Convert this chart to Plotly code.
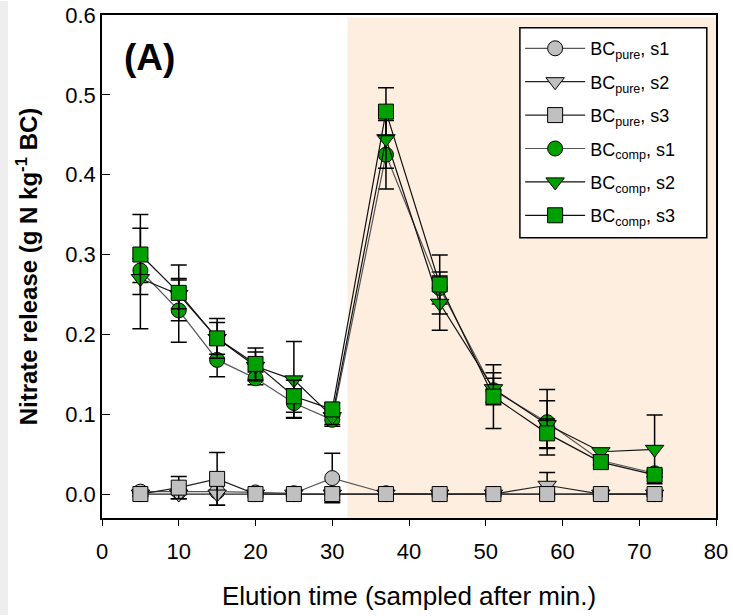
import plotly.graph_objects as go

# Sampling times (min) and nitrate release (g N kg-1 BC), mean and error
times = [5, 10, 15, 20, 25, 30, 37, 44, 51, 58, 65, 72]

pure_s1 = [0.003, 0.003, 0.003, 0.002, 0.001, 0.020, 0.001, 0.0, 0.0, 0.0, 0.0, 0.0]
pure_s1_err = [0.002, 0.003, 0.002, 0.002, 0.002, 0.031, 0.001, 0.001, 0.001, 0.001, 0.001, 0.001]
pure_s2 = [0.0, 0.0, 0.0, 0.0, 0.0, 0.0, 0.0, 0.0, 0.0, 0.011, 0.0, 0.0]
pure_s2_err = [0.003, 0.006, 0.014, 0.004, 0.003, 0.008, 0.003, 0.003, 0.003, 0.016, 0.003, 0.003]
pure_s3 = [0.0, 0.008, 0.019, 0.0, 0.0, 0.0, 0.0, 0.0, 0.0, 0.0, 0.0, 0.0]
pure_s3_err = [0.002, 0.014, 0.033, 0.002, 0.002, 0.002, 0.002, 0.002, 0.002, 0.002, 0.002, 0.002]

comp_s1 = [0.28, 0.23, 0.168, 0.145, 0.114, 0.093, 0.425, 0.258, 0.13, 0.09, 0.042, 0.026]
comp_s1_err = [0.015, 0.04, 0.021, 0.008, 0.018, 0.008, 0.043, 0.02, 0.015, 0.041, 0.005, 0.004]
comp_s2 = [0.27, 0.25, 0.195, 0.16, 0.143, 0.097, 0.445, 0.239, 0.132, 0.087, 0.053, 0.056]
comp_s2_err = [0.063, 0.018, 0.02, 0.018, 0.048, 0.01, 0.037, 0.034, 0.02, 0.03, 0.004, 0.043]
comp_s3 = [0.30, 0.252, 0.195, 0.163, 0.1225, 0.106, 0.479, 0.2625, 0.122, 0.076, 0.04, 0.024]
comp_s3_err = [0.05, 0.035, 0.025, 0.02, 0.02, 0.008, 0.03, 0.037, 0.04, 0.018, 0.004, 0.003]

GRAY = "#c0c0c0"
GREEN = "#00a000"
FONT = "Arial, 'Liberation Sans', sans-serif"

series = [
    ("BC<sub>pure</sub>, s1", pure_s1, pure_s1_err, "circle", GRAY, "#555555"),
    ("BC<sub>pure</sub>, s2", pure_s2, pure_s2_err, "triangle-down", GRAY, "#222222"),
    ("BC<sub>pure</sub>, s3", pure_s3, pure_s3_err, "square", GRAY, "#222222"),
    ("BC<sub>comp</sub>, s1", comp_s1, comp_s1_err, "circle", GREEN, "#555555"),
    ("BC<sub>comp</sub>, s2", comp_s2, comp_s2_err, "triangle-down", GREEN, "#111111"),
    ("BC<sub>comp</sub>, s3", comp_s3, comp_s3_err, "square", GREEN, "#111111"),
]

fig = go.Figure()
for i, (name, vals, errs, sym, fill, lcol) in enumerate(series):
    size = 16 if sym == "triangle-down" else 15
    fig.add_trace(go.Scatter(
        x=times, y=vals, name=name, mode="lines+markers",
        legendgroup=f"g{i}",
        line=dict(color=lcol, width=1.2),
        marker=dict(symbol=sym, size=size, color=fill,
                    line=dict(color="#000000", width=1)),
        error_y=dict(type="data", array=errs, visible=True,
                     color="#000000", thickness=1.5, width=8),
    ))

# Shaded second elution phase
fig.add_shape(type="rect", xref="x", yref="y", x0=32, x1=80, y0=-0.03, y1=0.597,
              fillcolor="#fdeedf", line=dict(width=0), layer="below")
# White framed panel behind the legend entries
fig.add_shape(type="rect", xref="x", yref="y", x0=54.45, x1=78.8, y0=0.321, y1=0.584,
              fillcolor="#ffffff", line=dict(color="#000000", width=1.5), layer="below")
# Light strip at the left page edge
fig.add_shape(type="rect", xref="paper", yref="paper",
              x0=-102 / 614, x1=-94 / 614, y0=-97 / 503, y1=1 + 14 / 503,
              fillcolor="#eeeeee", line=dict(width=0), layer="below")

fig.add_annotation(x=0.033, y=0.915, xref="paper", yref="paper",
                   text="<b>(A)</b>", showarrow=False, xanchor="left", yanchor="middle",
                   font=dict(family=FONT, size=37, color="#000000"))

fig.update_layout(
    width=733, height=616,
    margin=dict(l=102, r=17, t=15, b=98, autoexpand=False),
    paper_bgcolor="#ffffff", plot_bgcolor="#ffffff",
    font=dict(family=FONT, color="#000000"),
    showlegend=True,
    legend=dict(x=0.681, y=0.970, xanchor="left", yanchor="top",
                bgcolor="rgba(0,0,0,0)", borderwidth=0,
                font=dict(family=FONT, size=18, color="#000000"),
                tracegroupgap=7, itemwidth=60),
    xaxis=dict(range=[0, 80], tickvals=[0, 10, 20, 30, 40, 50, 60, 70, 80],
               ticks="outside", ticklen=6, tickwidth=1.2, tickcolor="#000000",
               showline=True, linecolor="#000000", linewidth=1.5, mirror=True,
               showgrid=False, zeroline=False, automargin=False,
               ticklabelstandoff=7,
               tickfont=dict(family=FONT, size=22, color="#000000"),
               title=dict(text="Elution time (sampled after min.)",
                          font=dict(family=FONT, size=26, color="#000000"), standoff=24)),
    yaxis=dict(range=[-0.03, 0.6], tickvals=[0, 0.1, 0.2, 0.3, 0.4, 0.5, 0.6],
               tickformat=".1f",
               ticks="inside", ticklen=8, tickwidth=1.2, tickcolor="#000000",
               showline=True, linecolor="#000000", linewidth=1.5, mirror=True,
               showgrid=False, zeroline=False, automargin=False,
               tickfont=dict(family=FONT, size=22, color="#000000"),
               title=dict(text="<b>Nitrate release (g N kg<sup>-1</sup> BC)</b>",
                          font=dict(family=FONT, size=24, color="#000000"), standoff=21)),
)

fig.write_html("out.html")
